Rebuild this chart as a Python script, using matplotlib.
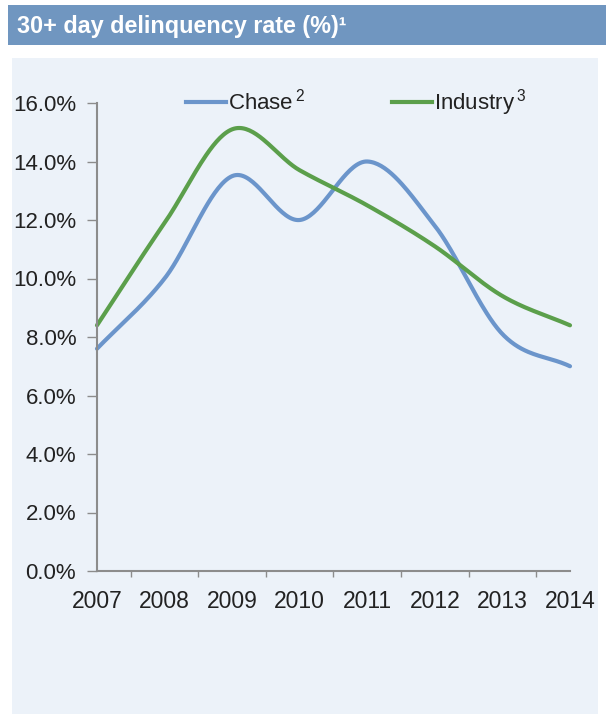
import numpy as np
import matplotlib.pyplot as plt
from matplotlib.patches import Rectangle
from matplotlib.lines import Line2D

plt.rcParams['font.family'] = ['Liberation Sans', 'DejaVu Sans']
plt.rcParams['mathtext.fontset'] = 'custom'
plt.rcParams['mathtext.rm'] = 'Liberation Sans'
plt.rcParams['mathtext.it'] = 'Liberation Sans'
plt.rcParams['mathtext.default'] = 'rm'

years = [2007, 2008, 2009, 2010, 2011, 2012, 2013, 2014]
chase = [7.6, 10.0, 13.5, 12.0, 14.0, 11.8, 8.1, 7.0]
industry = [8.4, 11.9, 15.1, 13.7, 12.5, 11.1, 9.4, 8.4]
yticks = [0, 2, 4, 6, 8, 10, 12, 14, 16]

title = '30+ day delinquency rate (%)\u00b9'
chase_label = r'Chase$\,^{2}$'
industry_label = r'Industry$\,^{3}$'

chase_color = '#6b95cb'
industry_color = '#5b9f4b'
text_color = '#222222'
spine_color = '#8c8c8c'


def smooth(x, y, n=40):
    # Catmull-Rom curve through the points, like a "smoothed line" chart
    x = np.asarray(x, float)
    y = np.asarray(y, float)
    px = np.concatenate([[2 * x[0] - x[1]], x, [2 * x[-1] - x[-2]]])
    py = np.concatenate([[2 * y[0] - y[1]], y, [2 * y[-1] - y[-2]]])
    t = np.linspace(0, 1, n)
    xs, ys = [], []
    for i in range(1, len(px) - 2):
        for p, out in ((px, xs), (py, ys)):
            p0, p1, p2, p3 = p[i - 1], p[i], p[i + 1], p[i + 2]
            m1 = (p2 - p0) / 2
            m2 = (p3 - p1) / 2
            h00 = 2 * t**3 - 3 * t**2 + 1
            h10 = t**3 - 2 * t**2 + t
            h01 = -2 * t**3 + 3 * t**2
            h11 = t**3 - t**2
            out.append(h00 * p1 + h10 * m1 + h01 * p2 + h11 * m2)
    return np.concatenate(xs), np.concatenate(ys)


W, H = 606, 717
fig = plt.figure(figsize=(W / 100, H / 100), dpi=100)
fig.patch.set_facecolor('white')

# light panel behind the chart
fig.patches.append(Rectangle((12 / W, 3 / H), 586 / W, (H - 58 - 3) / H,
                             transform=fig.transFigure, facecolor='#ecf2f9',
                             edgecolor='none', zorder=-2))
# title bar
fig.patches.append(Rectangle((8 / W, (H - 45) / H), (W - 8) / W, 40 / H,
                             transform=fig.transFigure, facecolor='#7096c0',
                             edgecolor='none', zorder=-1))
fig.text(17 / W, (H - 27) / H, title, color='white', fontsize=16.8,
         fontweight='bold', va='center', ha='left')

ax = fig.add_axes([97 / W, 146 / H, 473 / W, 468 / H])
ax.set_facecolor('none')
ax.set_zorder(2)

cx, cy = smooth(years, chase)
ix, iy = smooth(years, industry)
ax.plot(cx, cy, color=chase_color, lw=3, solid_capstyle='round',
        label=chase_label, clip_on=False)
ax.plot(ix, iy, color=industry_color, lw=3, solid_capstyle='round',
        label=industry_label, clip_on=False)

ax.set_xlim(years[0], years[-1])
ax.set_ylim(0, 16)
ax.set_yticks(yticks)
ax.set_yticklabels(['%.1f%%' % v for v in yticks])
ax.set_xticks(years)
ax.set_xticklabels([str(y) for y in years])
ax.set_xticks([y + 0.5 for y in years[:-1]], minor=True)

for s in ['top', 'right']:
    ax.spines[s].set_visible(False)
for s in ['left', 'bottom']:
    ax.spines[s].set_color(spine_color)
    ax.spines[s].set_linewidth(1.5)

ax.tick_params(axis='y', direction='out', length=7, width=1, color=spine_color,
               labelsize=16, labelcolor=text_color, pad=8)
ax.tick_params(axis='x', which='major', length=0, labelsize=16.5,
               labelcolor=text_color, pad=14)
ax.tick_params(axis='x', which='minor', direction='out', length=4, width=1,
               color=spine_color)

handles = [Line2D([], [], color=chase_color, lw=3),
           Line2D([], [], color=industry_color, lw=3)]
fig.legend(handles, [chase_label, industry_label], loc='center',
           bbox_to_anchor=(356 / W, (H - 103) / H), ncol=2, frameon=False,
           fontsize=16, handlelength=1.8, handletextpad=0.1, columnspacing=3.9,
           labelcolor=text_color)

fig.savefig('out.png', dpi=100)
